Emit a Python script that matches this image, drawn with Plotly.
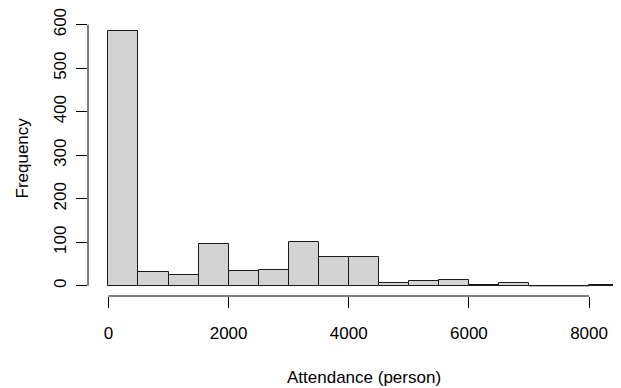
import plotly.graph_objects as go

# Histogram data (bins of width 500 from 0 to 8500)
bin_starts = [0, 500, 1000, 1500, 2000, 2500, 3000, 3500, 4000, 4500,
              5000, 5500, 6000, 6500, 7000, 7500, 8000]
counts = [585, 32, 24, 97, 34, 37, 101, 67, 67, 7, 11, 14, 1, 7, 0, 0, 1]
bin_width = 500
x_ticks = [0, 2000, 4000, 6000, 8000]
y_ticks = [0, 100, 200, 300, 400, 500, 600]
x_title = "Attendance (person)"
y_title = "Frequency"

FONT = "Liberation Sans, Arial, Helvetica, sans-serif"
FS = 17
# page body has an 8px default margin, so the figure is drawn 8px smaller
OFF = 8
W, H = 621 - OFF, 388 - OFF
ML, MR, MT, MB = 88 - OFF, 0, 17.6 - OFF, 92

centers = [s + bin_width / 2 for s in bin_starts]
x_lo, x_hi = bin_starts[0], bin_starts[-1] + bin_width
ymax = max(counts)

fig = go.Figure()
fig.add_trace(go.Bar(
    x=centers, y=counts, width=[bin_width] * len(counts),
    marker=dict(color="#D3D3D3", line=dict(color="#1a1a1a", width=1)),
    showlegend=False, hoverinfo="x+y",
))
# zero-height bins are drawn as flat lines on the baseline (like R)
zx, zy = [], []
for s, c in zip(bin_starts, counts):
    if c == 0:
        zx += [s, s + bin_width, None]
        zy += [0, 0, None]
fig.add_trace(go.Scatter(x=zx, y=zy, mode="lines",
                         line=dict(color="#1a1a1a", width=1),
                         showlegend=False, hoverinfo="skip"))

pad = 0.04 * (x_hi - x_lo)
x_left = x_lo - pad
plot_w = W - ML - MR
scale = 551.5 / (x_hi + pad - x_left)
x_right = x_left + plot_w / scale

fig.update_layout(
    width=W, height=H,
    margin=dict(l=ML, r=MR, t=MT, b=MB, pad=0),
    plot_bgcolor="white", paper_bgcolor="white",
    font=dict(family=FONT, size=FS, color="black"),
    bargap=0,
    xaxis=dict(range=[x_left, x_right], tickvals=x_ticks,
               ticktext=[str(v) for v in x_ticks],
               ticks="outside", ticklen=11, tickwidth=1, tickcolor="black",
               showline=False, showgrid=False, zeroline=False,
               ticklabelstandoff=11, ticklabeloverflow="allow",
               tickfont=dict(family=FONT, size=FS, color="black")),
    yaxis=dict(range=[-0.04 * ymax, 1.04 * ymax], tickvals=y_ticks,
               ticktext=[str(v) for v in y_ticks],
               ticks="outside", ticklen=11, tickwidth=1, tickcolor="black",
               showline=False, showgrid=False, zeroline=False,
               tickangle=-90, ticklabelstandoff=3, ticklabeloverflow="allow",
               tickfont=dict(family=FONT, size=FS, color="black")),
    shapes=[
        dict(type="line", xref="x", yref="paper", x0=x_ticks[0], x1=x_ticks[-1],
             y0=0, y1=0, line=dict(color="black", width=1)),
        dict(type="line", xref="paper", yref="y", x0=0, x1=0,
             y0=y_ticks[0], y1=y_ticks[-1], line=dict(color="black", width=1)),
    ],
    annotations=[
        dict(text=x_title, xref="x", yref="paper", x=(x_lo + x_hi) / 2, y=0,
             yshift=-81, showarrow=False, xanchor="center", yanchor="middle",
             font=dict(family=FONT, size=FS, color="black")),
        dict(text=y_title, xref="paper", yref="y", x=0, y=ymax / 2,
             xshift=-66, showarrow=False, textangle=-90,
             xanchor="center", yanchor="middle",
             font=dict(family=FONT, size=FS, color="black")),
    ],
)

fig.write_html("out.html")
